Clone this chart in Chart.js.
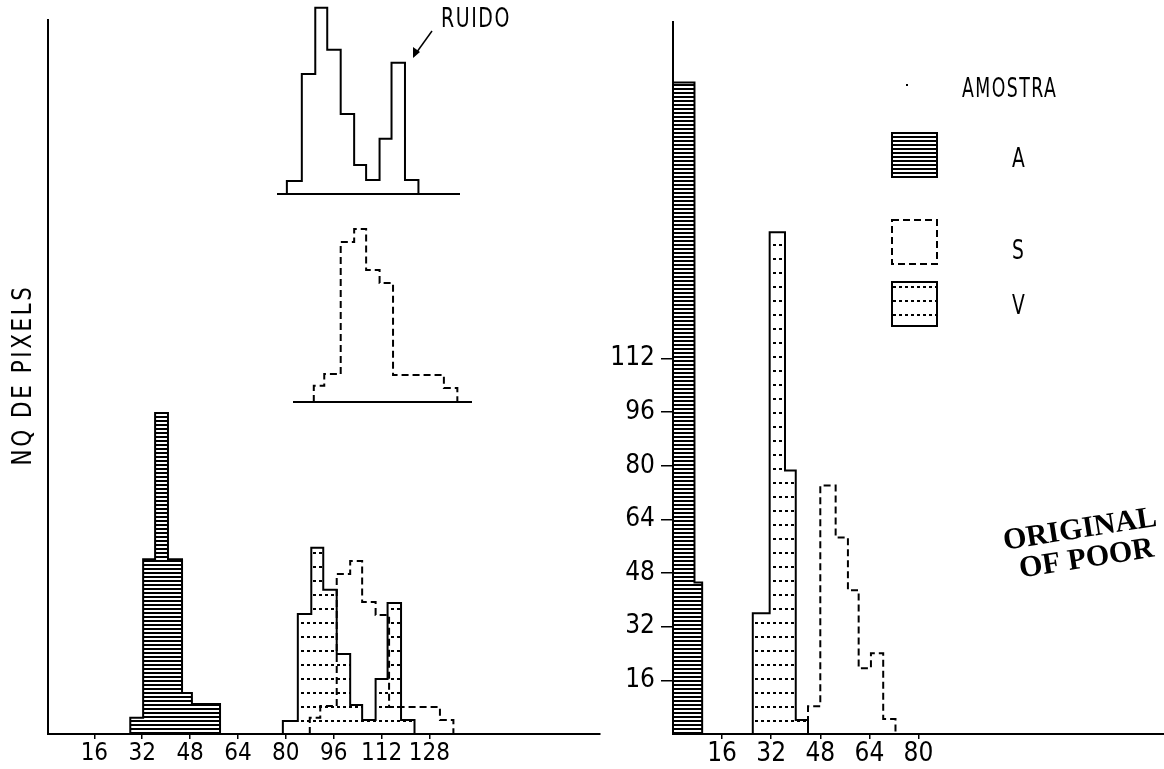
<!doctype html>
<html>
<head>
<meta charset="UTF-8">
<script src="https://cdn.jsdelivr.net/npm/chart.js"></script>
<style>
  body { margin: 0; background: #fff; }
  #wrap { position: relative; width: 1164px; height: 769px; overflow: hidden; background: #fff; }
  #wrap canvas { position: absolute; }
</style>
</head>
<body>
<div id="wrap">
  <canvas id="left_graph" width="610" height="769" style="left:0;top:0"></canvas>
  <canvas id="right_graph" width="554" height="769" style="left:610px;top:0"></canvas>
  <canvas id="inset_v" width="183" height="196" style="left:277px;top:0"></canvas>
  <canvas id="inset_s" width="179" height="189" style="left:293px;top:215px"></canvas>
</div>
<script>
// ---- data (gray level bin edges, pixel counts) ----
const seriesNames = ['A', 'S', 'V'];
const leftXTicks = [16, 32, 48, 64, 80, 96, 112, 128];
const rightXTicks = [16, 32, 48, 64, 80];
const rightYTicks = [16, 32, 48, 64, 80, 96, 112];

// left panel
const leftEdgesA = [28, 32.3, 36.3, 40.6, 45.3, 48.6, 58];
const leftCountsA = [4.8, 52, 95.5, 52, 12.2, 8.9];
const leftEdgesV = [79, 84, 88.5, 92.5, 97, 101.5, 105.5, 110, 114, 118.5, 123];
const leftCountsV = [3.9, 35.7, 55.4, 42.9, 23.8, 8.6, 4.2, 16.4, 39, 4.2];
const leftEdgesS = [88, 91.5, 97, 101.5, 105.5, 110, 114.5, 131.5, 136];
const leftCountsS = [4.8, 8.3, 47.6, 51.5, 39.3, 35.4, 8, 4.2];

// right panel
const rightEdgesA = [0, 7, 9.5];
const rightCountsA = [194.3, 45.2];
const rightEdgesV = [26, 31.5, 36.5, 40, 44];
const rightCountsV = [36, 149.7, 78.6, 4.2];
const rightEdgesS = [44, 48, 53, 57, 60.5, 64.5, 68.5, 72.5];
const rightCountsS = [8.3, 74.1, 58.6, 42.9, 19.6, 24.1, 4.5];

const NARROW = "'DejaVu Sans Condensed', 'Liberation Sans Narrow', sans-serif";
Chart.defaults.font.family = NARROW;
Chart.defaults.color = '#000';

// histogram outline as a stepped line
function steps(edges, counts) {
    const pts = [{x: edges[0], y: 0}];
    counts.forEach((c, i) => pts.push({x: edges[i], y: c}));
    pts.push({x: edges[edges.length - 1], y: 0});
    return pts;
}

function makePattern(w, h, draw) {
    const c = document.createElement('canvas');
    c.width = w; c.height = h;
    const g = c.getContext('2d');
    draw(g);
    return g.createPattern(c, 'repeat');
}
const hatch = makePattern(8, 4, g => { g.fillStyle = '#000'; g.fillRect(0, 0, 8, 2); });
const dots = makePattern(6, 14, g => { g.fillStyle = '#000'; g.fillRect(1, 6, 3, 2); });

function histo(edges, counts, kind) {
    const ds = {
        data: steps(edges, counts),
        stepped: true,
        borderColor: '#000',
        borderWidth: 2,
        pointRadius: 0,
        fill: false
    };
    if (kind === 'A') { ds.fill = 'origin'; ds.backgroundColor = hatch; }
    if (kind === 'V') { ds.fill = 'origin'; ds.backgroundColor = dots; }
    if (kind === 'S') { ds.borderDash = [7, 4]; }
    return ds;
}

const common = {
    animation: false,
    responsive: false,
    events: [],
    plugins: { legend: { display: false }, tooltip: { enabled: false } }
};

function xAxis(min, max, ticks, size) {
    return {
        type: 'linear', min: min, max: max,
        afterBuildTicks: s => { s.ticks = ticks.map(v => ({value: v})); },
        afterFit: s => { s.height = 35; },
        ticks: { font: { size: size }, padding: 0, maxRotation: 0, autoSkip: false },
        grid: { drawOnChartArea: false, tickLength: 5, color: '#000', lineWidth: 1.5 },
        border: { color: '#000', width: 2 }
    };
}

// narrow typewriter-like text
function narrowText(ctx, text, x, y, size, squeeze, align) {
    ctx.save();
    ctx.font = size + 'px ' + NARROW;
    ctx.textBaseline = 'middle';
    ctx.textAlign = align || 'left';
    ctx.translate(x, y);
    ctx.scale(squeeze, 1);
    ctx.fillText(text, 0, 0);
    ctx.restore();
}

// texts of the left panel
const leftText = {
    id: 'leftText',
    afterDraw(chart) {
        const ctx = chart.ctx;
        ctx.save();
        ctx.fillStyle = '#000';
        ctx.strokeStyle = '#000';
        ctx.translate(24, 375);
        ctx.rotate(-Math.PI / 2);
        ctx.letterSpacing = '3px';
        narrowText(ctx, 'NQ DE PIXELS', 0, 0, 27, 0.88, 'center');
        ctx.restore();

        ctx.save();
        ctx.fillStyle = '#000';
        ctx.strokeStyle = '#000';
        ctx.letterSpacing = '2px';
        narrowText(ctx, 'RUIDO', 441, 20, 27, 0.78);
        // arrow to the noise peak
        ctx.lineWidth = 1.5;
        ctx.beginPath();
        ctx.moveTo(432, 31);
        ctx.lineTo(414, 56);
        ctx.stroke();
        ctx.beginPath();
        ctx.moveTo(413, 58);
        ctx.lineTo(413, 47);
        ctx.lineTo(420, 52);
        ctx.closePath();
        ctx.fill();
        ctx.restore();
    }
};

new Chart(document.getElementById('left_graph'), {
    type: 'line',
    data: {
        datasets: [
            histo(leftEdgesS, leftCountsS, 'S'),
            histo(leftEdgesV, leftCountsV, 'V'),
            histo(leftEdgesA, leftCountsA, 'A')
        ]
    },
    options: Object.assign({}, common, {
        layout: { padding: { top: 20, right: 10, left: 0, bottom: 0 } },
        scales: {
            x: xAxis(0.5, 185, leftXTicks, 24),
            y: {
                min: 0, max: 212.5,
                ticks: { display: false },
                grid: { display: false },
                border: { color: '#000', width: 2 },
                afterFit: s => { s.width = 48; }
            }
        }
    }),
    plugins: [leftText]
});

// legend and stamp of the right panel
const rightText = {
    id: 'rightText',
    afterDraw(chart) {
        const ctx = chart.ctx;
        const ox = 610;
        ctx.save();
        ctx.fillStyle = '#000';
        ctx.strokeStyle = '#000';
        ctx.letterSpacing = '2px';
        narrowText(ctx, 'AMOSTRA', 962 - ox, 90, 26, 0.74);
        ctx.fillRect(906 - ox, 84, 2, 2);

        const boxes = { A: 133, S: 220, V: 282 };
        const labels = { A: 160, S: 252, V: 307 };
        seriesNames.forEach(name => {
            const x = 892 - ox, y = boxes[name], w = 45, h = 44;
            ctx.save();
            ctx.lineWidth = 2;
            if (name === 'A') { ctx.fillStyle = hatch; ctx.fillRect(x, y, w, h); }
            if (name === 'V') { ctx.fillStyle = dots; ctx.fillRect(x, y, w, h); }
            if (name === 'S') { ctx.setLineDash([7, 4]); }
            ctx.strokeRect(x, y, w, h);
            ctx.restore();
            narrowText(ctx, name, 1012 - ox, labels[name], 26, 0.8);
        });
        ctx.restore();

        ctx.save();
        ctx.fillStyle = '#000';
        ctx.font = 'bold 30px "Liberation Serif", "DejaVu Serif", serif';
        ctx.textAlign = 'center';
        ctx.textBaseline = 'middle';
        ctx.translate(1080 - ox, 530);
        ctx.rotate(-9 * Math.PI / 180);
        ctx.fillText('ORIGINAL', 0, 0);
        ctx.fillText('OF POOR', 2, 30);
        ctx.restore();
    }
};

new Chart(document.getElementById('right_graph'), {
    type: 'line',
    data: {
        datasets: [
            histo(rightEdgesS, rightCountsS, 'S'),
            histo(rightEdgesV, rightCountsV, 'V'),
            histo(rightEdgesA, rightCountsA, 'A')
        ]
    },
    options: Object.assign({}, common, {
        layout: { padding: { top: 20, right: 0, left: 0, bottom: 0 } },
        scales: {
            x: xAxis(0, 160, rightXTicks, 26),
            y: {
                min: 0, max: 212.5,
                afterBuildTicks: s => { s.ticks = rightYTicks.map(v => ({value: v})); },
                afterFit: s => { s.width = 63; },
                ticks: { font: { size: 26 }, padding: 6 },
                grid: { drawOnChartArea: false, tickLength: 12, color: '#000', lineWidth: 1.5 },
                border: { color: '#000', width: 2 }
            }
        }
    }),
    plugins: [rightText]
});

// the two small histograms drawn alone above
function insetOptions(min, max, ymax) {
    return Object.assign({}, common, {
        layout: { padding: { top: 0, right: 0, left: 0, bottom: 2 } },
        scales: {
            x: {
                type: 'linear', min: min, max: max,
                ticks: { display: false },
                grid: { display: false },
                border: { color: '#000', width: 2 },
                afterFit: s => { s.height = 0; }
            },
            y: { display: false, min: 0, max: ymax }
        }
    });
}

new Chart(document.getElementById('inset_v'), {
    type: 'line',
    data: { datasets: [Object.assign(histo(leftEdgesV, leftCountsV, 'V'), { fill: false })] },
    options: insetOptions(75.7, 136.9, 57.7)
});

new Chart(document.getElementById('inset_s'), {
    type: 'line',
    data: { datasets: [histo(leftEdgesS, leftCountsS, 'S')] },
    options: insetOptions(81.05, 140.9, 55.65)
});
</script>
</body>
</html>
